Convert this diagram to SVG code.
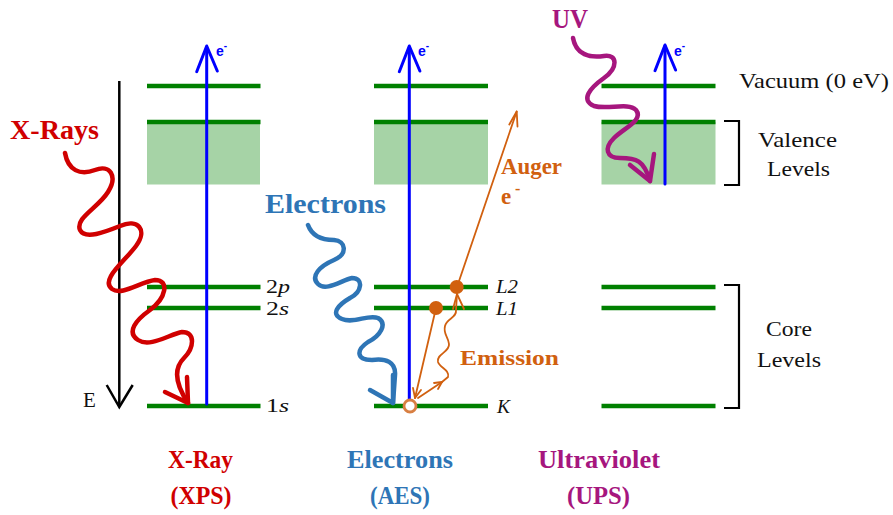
<svg xmlns="http://www.w3.org/2000/svg" width="893" height="515" viewBox="0 0 893 515">
<style>
.lvl{stroke:#008000;stroke-width:4.5;fill:none}
.band{fill:#a6d3a6}
.blue{stroke:#0000ff;stroke-width:3;fill:none;stroke-linecap:round;stroke-linejoin:round}
.org{stroke:#d1600f;stroke-width:1.8;fill:none;stroke-linecap:round;stroke-linejoin:round}
.wave{fill:none;stroke-width:4.5;stroke-linecap:round;stroke-linejoin:round}
.brk{stroke:#000;stroke-width:2.2;fill:none}
.lab{font-family:"Liberation Serif","Times New Roman",serif;font-size:21px;fill:#111}
.sub{font-size:19.5px}
.it{font-style:italic}
.bold{font-family:"Liberation Serif","Times New Roman",serif;font-weight:bold}
.ee{font-family:"Liberation Sans",Arial,sans-serif;font-weight:bold;font-size:14px;fill:#0000ff}
</style>

<g id="energy-axis">
  <line x1="119.3" y1="81" x2="119.3" y2="406" stroke="#000" stroke-width="2.5"/>
  <polyline points="106.7,385 119.3,407 132.7,385" fill="none" stroke="#000" stroke-width="2.5"/>
  <text class="lab" x="83" y="407" font-size="22">E</text>
</g>

<g id="xps-column">
  <rect class="band" x="147" y="122" width="113" height="62.5"/>
  <line class="lvl" x1="147" y1="86" x2="260.5" y2="86"/>
  <line class="lvl" x1="147" y1="122" x2="260.5" y2="122"/>
  <line class="lvl" x1="147" y1="287" x2="260.5" y2="287"/>
  <line class="lvl" x1="147" y1="308" x2="260.5" y2="308"/>
  <line class="lvl" x1="147" y1="406" x2="260.5" y2="406"/>
  <text class="lab sub" x="266" y="293" textLength="24" lengthAdjust="spacingAndGlyphs">2<tspan class="it">p</tspan></text>
  <text class="lab sub" x="266" y="315" textLength="23" lengthAdjust="spacingAndGlyphs">2<tspan class="it">s</tspan></text>
  <text class="lab sub" x="266" y="412" textLength="23" lengthAdjust="spacingAndGlyphs">1<tspan class="it">s</tspan></text>
  <text class="ee" x="216" y="56">e<tspan font-size="10" dy="-7">-</tspan></text>
  <text class="bold" x="10" y="139" font-size="27" fill="#d00000" textLength="89" lengthAdjust="spacingAndGlyphs">X-Rays</text>
  <text class="bold" x="168" y="468" font-size="26" fill="#d00000" textLength="65" lengthAdjust="spacingAndGlyphs">X-Ray</text>
  <text class="bold" x="170.5" y="504" font-size="26" fill="#d00000" textLength="61" lengthAdjust="spacingAndGlyphs">(XPS)</text>
</g>

<g id="aes-column">
  <rect class="band" x="374" y="122" width="114" height="62.5"/>
  <line class="lvl" x1="374" y1="86" x2="488" y2="86"/>
  <line class="lvl" x1="374" y1="122" x2="488" y2="122"/>
  <line class="lvl" x1="374" y1="287" x2="488" y2="287"/>
  <line class="lvl" x1="374" y1="308" x2="488" y2="308"/>
  <line class="lvl" x1="374" y1="406" x2="488" y2="406"/>
  <text class="lab sub it" x="496" y="293" textLength="22" lengthAdjust="spacingAndGlyphs">L2</text>
  <text class="lab sub it" x="496" y="315" textLength="22" lengthAdjust="spacingAndGlyphs">L1</text>
  <text class="lab sub it" x="497" y="413">K</text>
  <text class="ee" x="418" y="56">e<tspan font-size="10" dy="-7">-</tspan></text>
  <text class="bold" x="265" y="213" font-size="27" fill="#2e75b6" textLength="121" lengthAdjust="spacingAndGlyphs">Electrons</text>
  <text class="bold" x="501" y="174" font-size="23" fill="#d1600f" textLength="61" lengthAdjust="spacingAndGlyphs">Auger</text>
  <text class="bold" x="501" y="204" font-size="23" fill="#d1600f">e</text>
  <text class="bold" x="515" y="194" font-size="16" fill="#d1600f">-</text>
  <text class="bold" x="460" y="365" font-size="22" fill="#d1600f" textLength="99" lengthAdjust="spacingAndGlyphs">Emission</text>
  <text class="bold" x="347" y="468" font-size="26" fill="#2e75b6" textLength="106" lengthAdjust="spacingAndGlyphs">Electrons</text>
  <text class="bold" x="370" y="504" font-size="26" fill="#2e75b6" textLength="60" lengthAdjust="spacingAndGlyphs">(AES)</text>
</g>

<g id="ups-column">
  <rect class="band" x="601.5" y="122" width="114" height="62.5"/>
  <line class="lvl" x1="601.5" y1="86" x2="715.5" y2="86"/>
  <line class="lvl" x1="601.5" y1="122" x2="715.5" y2="122"/>
  <line class="lvl" x1="601.5" y1="287" x2="715.5" y2="287"/>
  <line class="lvl" x1="601.5" y1="308" x2="715.5" y2="308"/>
  <line class="lvl" x1="601.5" y1="406" x2="715.5" y2="406"/>
  <text class="ee" x="674" y="56">e<tspan font-size="10" dy="-7">-</tspan></text>
  <text class="bold" x="552" y="28" font-size="27" fill="#a6167e" textLength="36" lengthAdjust="spacingAndGlyphs">UV</text>
  <text class="bold" x="538" y="468" font-size="26" fill="#a6167e" textLength="122" lengthAdjust="spacingAndGlyphs">Ultraviolet</text>
  <text class="bold" x="567" y="504" font-size="26" fill="#a6167e" textLength="63" lengthAdjust="spacingAndGlyphs">(UPS)</text>
</g>

<g id="level-legend">
  <text class="lab" x="739" y="88" textLength="150" lengthAdjust="spacingAndGlyphs">Vacuum (0 eV)</text>
  <path class="brk" d="M724,121 H739 V185 H724"/>
  <text class="lab" x="758" y="147" textLength="79" lengthAdjust="spacingAndGlyphs">Valence</text>
  <text class="lab" x="767" y="176" textLength="63" lengthAdjust="spacingAndGlyphs">Levels</text>
  <path class="brk" d="M724,285 H739 V408 H724"/>
  <text class="lab" x="766" y="336" textLength="46" lengthAdjust="spacingAndGlyphs">Core</text>
  <text class="lab" x="757" y="367" textLength="64" lengthAdjust="spacingAndGlyphs">Levels</text>
</g>

<g id="connectors">
  <line class="blue" x1="206.7" y1="404" x2="206.7" y2="47"/>
  <polyline class="blue" points="196.7,71.7 206.7,46 217.3,71"/>
  <line class="blue" x1="409.3" y1="404" x2="409.3" y2="47"/>
  <polyline class="blue" points="399.3,71.7 409.3,46 419.9,71"/>
  <line class="blue" x1="665" y1="184" x2="665" y2="46"/>
  <polyline class="blue" points="655,70.7 665,45 675.6,70"/>

  <path class="wave" stroke="#d00000" d="M65,153 C68,170 80,176 95,170 C110,164 118,176 108,192 C98,208 75,218 80,230 C85,240 105,232 120,226 C138,218 148,230 136,246 C124,262 100,280 112,289 C122,296 140,282 155,280 C170,280 166,298 150,310 C136,320 126,332 138,340 C150,348 170,334 182,332 C196,332 194,348 184,358 C174,368 174,382 188,403"/>
  <polyline class="wave" stroke="#d00000" points="165,392 188,403 187,377"/>

  <path class="wave" stroke="#2e75b6" d="M308,225 C312,236 322,240 334,240 C346,241 348,254 334,260 C320,266 310,276 318,284 C326,292 342,280 352,278 C364,278 362,292 350,298 C338,305 330,314 342,319 C354,324 368,314 378,318 C388,324 380,336 368,342 C356,350 356,360 372,360 C386,358 396,362 395,375 L393,403"/>
  <polyline class="wave" stroke="#2e75b6" points="370,390 393,403 393,375"/>

  <path class="wave" stroke="#a6167e" d="M573,38 C576,55 590,58 604,56 C618,54 618,68 604,78 C590,88 580,100 594,106 C608,110 628,102 636,110 C644,120 624,128 614,138 C604,148 606,158 620,158 C636,158 644,160 650,181"/>
  <polyline class="wave" stroke="#a6167e" points="630,165 650,181 654,154"/>

  <line class="org" x1="457" y1="287" x2="516.7" y2="111.5"/>
  <polyline class="org" points="509.3,124.5 516.7,111.5 517.5,126.5"/>
  <line class="org" x1="436" y1="308" x2="415" y2="398"/>
  <polyline class="org" points="413,388 415,398 421,390"/>
  <line class="org" x1="418" y1="398" x2="442" y2="382"/>
  <polyline class="org" points="434,383 442,382 438,389"/>
  <path class="org" d="M442,382 L448,377 C450,370 440,368 438,362 C436,354 450,352 449,344 C448,336 443,334 445,326 C447,318 457,318 456,310 L457,294"/>
  <polyline class="org" points="453,309 457,294 464,309"/>

  <circle cx="456.7" cy="287" r="7" fill="#d1600f"/>
  <circle cx="436" cy="308" r="7" fill="#d1600f"/>
  <circle cx="410" cy="406" r="6" fill="#fff" stroke="#d87f42" stroke-width="2.8"/>
</g>
</svg>
